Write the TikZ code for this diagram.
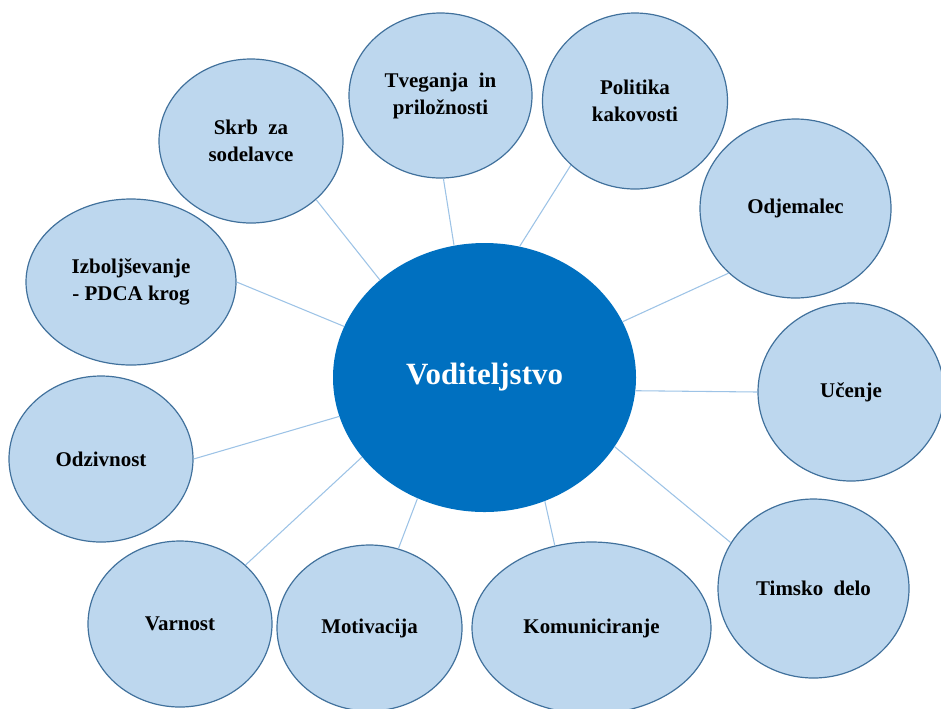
\documentclass[tikz,border=0pt]{standalone}
\usepackage{fontspec}
\setmainfont{Liberation Serif}
\usetikzlibrary{shapes}
\definecolor{hubblue}{HTML}{0070C0}
\definecolor{bubble}{HTML}{BDD7EE}
\definecolor{rim}{HTML}{41719C}
\definecolor{link}{HTML}{9DC3E6}

\begin{document}
\begin{tikzpicture}[x=0.75pt,y=-0.75pt,
	bub/.style={draw=rim,fill=bubble,ellipse,line width=0.9pt,inner sep=0pt,align=center,font=\fontsize{15.7}{20.3}\selectfont\bfseries},
	ln/.style={draw=link,line width=0.8pt}]
			\useasboundingbox (0,0) rectangle (941,708);
			\clip (0,0) rectangle (941,708);
			\node (V) [ellipse,fill=hubblue,inner sep=0pt,minimum width=227.25pt,minimum height=201.75pt,text=white,font=\fontsize{23.2}{28}\selectfont\bfseries] at (484.5,377.5){Voditeljstvo};
			\node (skrb) [bub,minimum width=138pt,minimum height=123pt] at (251,141){Skrb~ za\\sodelavce};
			\node (tveg) [bub,minimum width=137.25pt,minimum height=123.75pt] at (440.5,95.5){Tveganja~ in\\priložnosti};
			\node (pol) [bub,minimum width=138.75pt,minimum height=132pt] at (635,101){Politika\\kakovosti};
			\node (odj) [bub,minimum width=143.25pt,minimum height=134.25pt] at (795.5,208.5){Odjemalec};
			\node (izb) [bub,minimum width=157.5pt,minimum height=124.5pt] at (131,282){Izboljševanje\\- PDCA krog};
			\node (uc) [bub,minimum width=139.5pt,minimum height=133.5pt] at (851,392){Učenje};
			\node (odz) [bub,minimum width=138pt,minimum height=124.5pt] at (101,459){Odzivnost};
			\node (tim) [bub,minimum width=143.25pt,minimum height=134.25pt] at (813.5,588.5){Timsko~ delo};
			\node (varn) [bub,minimum width=138pt,minimum height=124.5pt] at (180,624){Varnost};
			\node (mot) [bub,minimum width=138.75pt,minimum height=124.5pt] at (369.5,628){Motivacija};
			\node (kom) [bub,minimum width=179.25pt,minimum height=129pt] at (591.5,628){Komuniciranje};

			\draw[ln] (skrb.-42.3)--(V.137.8);
			\draw[ln] (tveg.-88.3)--(V.103.5);
			\draw[ln] (pol.-135.9)--(V.75);
			\draw[ln] (odj.-136.7)--(V.22.5);
			\draw[ln] (izb.-0.5)--(V.160.7);
			\draw[ln] (odz.0)--(V.195.7);
			\draw[ln] (uc.180)--(V.-5.5);
			\draw[ln] (varn.42.3)--(V.-147.2);
			\draw[ln] (mot.70.6)--(V.-119.2);
			\draw[ln] (kom.114.9)--(V.-64.5);
			\draw[ln] (tim.151.5)--(V.-28.4);
		\end{tikzpicture}
\end{document}
